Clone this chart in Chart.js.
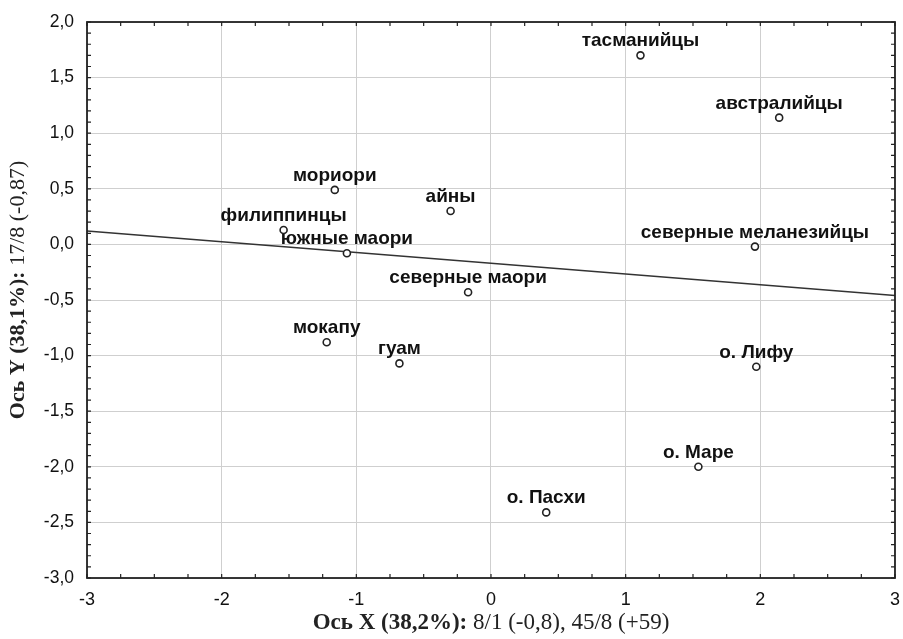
<!DOCTYPE html>
<html>
<head>
<meta charset="utf-8">
<script src="https://cdn.jsdelivr.net/npm/chart.js@4"></script>
<style>
  html, body { margin: 0; padding: 0; background: #fff; }
  #wrap { width: 903px; height: 639px; }
</style>
</head>
<body>
<div id="wrap"><canvas id="chart"></canvas></div>
<script>
const names = ['тасманийцы', 'австралийцы', 'северные меланезийцы', 'мориори', 'айны',
    'филиппинцы', 'южные маори', 'северные маори', 'мокапу', 'гуам',
    'о. Лифу', 'о. Маре', 'о. Пасхи'];
const xs = [1.11, 2.14, 1.96, -1.16, -0.30, -1.54, -1.07, -0.17, -1.22, -0.68, 1.97, 1.54, 0.41];
const ys = [1.70, 1.14, -0.02, 0.49, 0.30, 0.13, -0.08, -0.43, -0.88, -1.07, -1.10, -2.00, -2.41];

// regression line end points
const lineX = [-3, 3];
const lineY = [0.12, -0.46];

const xTitleBold = 'Ось X (38,2%): ';
const xTitleRest = '8/1 (-0,8), 45/8 (+59)';
const yTitleBold = 'Ось Y (38,1%): ';
const yTitleRest = '17/8 (-0,87)';

const serif = '"Liberation Serif", "Times New Roman", serif';
const sans = '"Liberation Sans", Arial, sans-serif';

function drawMixed(ctx, bold, rest, cx, cy, size) {
    ctx.font = 'bold ' + size + 'px ' + serif;
    const w1 = ctx.measureText(bold).width;
    ctx.font = size + 'px ' + serif;
    const w2 = ctx.measureText(rest).width;
    let x = cx - (w1 + w2) / 2;
    ctx.textAlign = 'left';
    ctx.textBaseline = 'middle';
    ctx.font = 'bold ' + size + 'px ' + serif;
    ctx.fillText(bold, x, cy);
    ctx.font = size + 'px ' + serif;
    ctx.fillText(rest, x + w1, cy);
}

const extras = {
    id: 'extras',
    afterDatasetsDraw(chart) {
        const ctx = chart.ctx;
        const a = chart.chartArea;
        const sx = chart.scales.x, sy = chart.scales.y;
        ctx.save();
        // frame
        ctx.strokeStyle = '#222';
        ctx.lineWidth = 1.8;
        ctx.strokeRect(a.left, a.top, a.right - a.left, a.bottom - a.top);
        // minor ticks inside the frame
        ctx.lineWidth = 1.2;
        ctx.beginPath();
        for (let v = -3; v <= 3.001; v += 0.25) {
            const px = sx.getPixelForValue(v);
            ctx.moveTo(px, a.bottom); ctx.lineTo(px, a.bottom - 4);
            ctx.moveTo(px, a.top); ctx.lineTo(px, a.top + 4);
        }
        for (let v = -3; v <= 2.001; v += 0.1) {
            const py = sy.getPixelForValue(v);
            ctx.moveTo(a.left, py); ctx.lineTo(a.left + 4, py);
            ctx.moveTo(a.right, py); ctx.lineTo(a.right - 4, py);
        }
        ctx.stroke();
        // point labels
        ctx.fillStyle = '#111';
        ctx.font = 'bold 19px ' + sans;
        ctx.textAlign = 'center';
        ctx.textBaseline = 'alphabetic';
        const meta = chart.getDatasetMeta(0);
        meta.data.forEach((pt, i) => {
            ctx.fillText(names[i], pt.x, pt.y - 9);
        });
        // axis titles
        ctx.fillStyle = '#222';
        drawMixed(ctx, xTitleBold, xTitleRest, (a.left + a.right) / 2, 623, 23);
        ctx.translate(18, 290);
        ctx.rotate(-Math.PI / 2);
        drawMixed(ctx, yTitleBold, yTitleRest, 0, 0, 22);
        ctx.restore();
    }
};

new Chart(document.getElementById('chart'), {
    type: 'scatter',
    data: {
        datasets: [{
            label: 'points',
            data: xs.map((x, i) => ({ x: x, y: ys[i] })),
            pointRadius: 3.5,
            pointBackgroundColor: '#fff',
            pointBorderColor: '#222',
            pointBorderWidth: 1.6,
            order: 0
        }, {
            label: 'line',
            data: lineX.map((x, i) => ({ x: x, y: lineY[i] })),
            showLine: true,
            pointRadius: 0,
            borderColor: '#333',
            borderWidth: 1.5,
            order: 1
        }]
    },
    plugins: [extras],
    options: {
        responsive: true,
        maintainAspectRatio: false,
        animation: false,
        layout: { padding: { top: 22, right: 8 } },
        plugins: { legend: { display: false }, tooltip: { enabled: false } },
        scales: {
            x: {
                min: -3, max: 3,
                ticks: {
                    stepSize: 1,
                    color: '#111',
                    padding: 3,
                    font: { family: sans, size: 18 },
                    callback: v => String(v)
                },
                grid: { color: '#cfcfcf', drawTicks: true, tickLength: 8, tickColor: 'rgba(0,0,0,0)' },
                border: { display: false },
                afterFit: s => { s.height = 61; }
            },
            y: {
                min: -3, max: 2,
                ticks: {
                    stepSize: 0.5,
                    color: '#111',
                    padding: 3,
                    font: { family: sans, size: 17.5 },
                    callback: v => v.toFixed(1).replace('.', ',')
                },
                grid: { color: '#cfcfcf', drawTicks: true, tickLength: 10, tickColor: 'rgba(0,0,0,0)' },
                border: { display: false },
                afterFit: s => { s.width = 87; }
            }
        }
    }
});
</script>
</body>
</html>
